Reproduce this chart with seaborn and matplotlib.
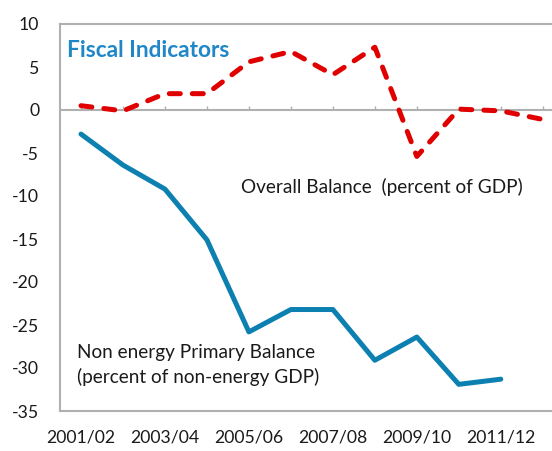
import matplotlib
matplotlib.use('Agg')
import matplotlib.pyplot as plt
import numpy as np
import pandas as pd
import seaborn as sns

years = ["2001/02", "2002/03", "2003/04", "2004/05", "2005/06", "2006/07",
         "2007/08", "2008/09", "2009/10", "2010/11", "2011/12", "2012/13"]
overallBalance = [0.5, -0.1, 1.9, 1.9, 5.6, 6.8, 4.1, 7.3, -5.4, 0.1, -0.1, -1.1]
nonEnergyBalance = [-2.8, -6.4, -9.2, -15.1, -25.8, -23.2, -23.2, -29.1, -26.4, -31.9, -31.3, np.nan]

df = pd.DataFrame({
    "pos": np.arange(len(years)),
    "overall": overallBalance,
    "nonEnergy": nonEnergyBalance,
})

sns.set_style("white")
plt.rcParams['font.family'] = ['Lato', 'DejaVu Sans']
plt.rcParams['axes.unicode_minus'] = False

fig = plt.figure(figsize=(5.52, 4.51), dpi=100)
ax = fig.add_axes([60 / 552, 1 - 411 / 451, 492 / 552, 387 / 451])

gray = "#b0b0b0"
red = "#e00000"
blue = "#0c80b1"

# zero line with small upward ticks at each category
ax.axhline(0, color=gray, lw=1.5, zorder=1)
ax.vlines(df["pos"], 0, 0.5, color=gray, lw=1, zorder=1)

sns.lineplot(data=df, x="pos", y="overall", ax=ax, color=red, lw=3.6, zorder=3)
ax.lines[-1].set_dashes([2.2, 2.4])
ax.lines[-1].set_dash_capstyle('round')
sns.lineplot(data=df, x="pos", y="nonEnergy", ax=ax, color=blue, lw=3.6, zorder=3)
for ln in ax.lines:
    ln.set_solid_capstyle('round')

ax.set_xlim(-0.5, 11.22)
ax.set_ylim(-35, 10)
ax.set_yticks(np.arange(-35, 11, 5))
ax.set_xticks(df["pos"][::2])
ax.set_xticklabels(years[::2])
ax.set_xlabel("")
ax.set_ylabel("")
ax.tick_params(axis='both', length=0, labelsize=12.7, colors="#1a1a1a")
ax.tick_params(axis='y', pad=15)
ax.tick_params(axis='x', pad=13)

for side in ["left", "bottom", "top"]:
    ax.spines[side].set_visible(True)
    ax.spines[side].set_color(gray)
    ax.spines[side].set_linewidth(1.5)
ax.spines["right"].set_visible(False)

ax.text(0.0135, 0.932, "Fiscal Indicators", transform=ax.transAxes, fontsize=16.3,
        fontweight='bold', color="#1f87c8", ha='left', va='center')
ax.text(3.82, -9.0, "Overall Balance  (percent of GDP)", fontsize=13.7,
        color="#1a1a1a", ha='left', va='center')
ax.text(-0.1, -29.7, "Non energy Primary Balance\n(percent of non-energy GDP)",
        fontsize=13.7, color="#1a1a1a", ha='left', va='center', linespacing=1.45)

fig.savefig("out.png", dpi=100)
